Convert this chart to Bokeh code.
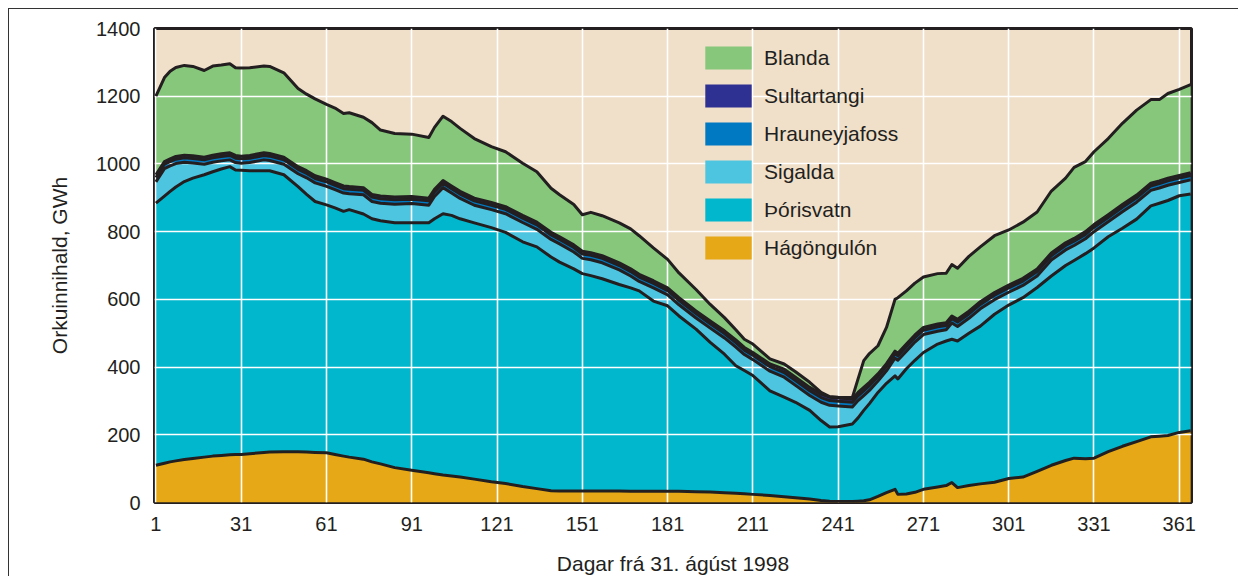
import numpy as np
from bokeh.plotting import figure
from bokeh.models import Range1d, FixedTicker, Legend, LegendItem, ColumnDataSource
from bokeh.embed import file_html
from bokeh.resources import INLINE

# ---- data (GWh) ----
days = [1, 4, 6, 8, 11, 14, 18, 21, 24, 27,
        29, 31, 34, 39, 41, 46, 51, 54, 57, 61,
        64, 67, 69, 74, 77, 80, 85, 91, 97, 99,
        102, 105, 108, 113, 119, 124, 130, 135, 140, 143,
        148, 151, 154, 158, 164, 168, 171, 176, 181, 185,
        191, 196, 201, 205, 208, 211, 217, 222, 226, 231,
        235, 238, 241, 246, 248, 250, 252, 255, 258, 261,
        262, 265, 268, 271, 276, 279, 281, 283, 287, 291,
        296, 301, 306, 311, 316, 321, 324, 328, 331, 336,
        341, 346, 351, 354, 357, 361, 365]

hagongulon = [110, 116, 120, 123, 127, 130, 134, 137, 139, 141,
              142, 142, 144, 148, 149, 150, 150, 149, 148, 147,
              142, 137, 134, 128, 120, 114, 103, 95, 88, 85,
              81, 78, 75, 69, 61, 56, 47, 41, 35, 34,
              34, 34, 34, 34, 34, 33, 33, 33, 33, 33,
              32, 31, 29, 27, 26, 24, 21, 17, 14, 10,
              6, 4, 3, 3, 4, 5, 8, 18, 29, 39,
              24, 25, 30, 39, 46, 50, 59, 44, 50, 55,
              60, 71, 75, 92, 110, 124, 131, 129, 131, 150,
              166, 180, 194, 196, 198, 207, 212]

thorisvatn = [774, 789, 799, 809, 821, 828, 834, 840, 846, 851,
              840, 839, 836, 832, 831, 818, 783, 761, 741, 732,
              728, 723, 731, 724, 718, 718, 723, 731, 738, 753,
              772, 770, 763, 757, 751, 742, 723, 714, 690, 676,
              656, 642, 636, 627, 610, 601, 592, 562, 548, 518,
              480, 442, 409, 377, 364, 351, 309, 294, 282, 262,
              236, 219, 221, 229, 246, 267, 284, 307, 323, 335,
              341, 370, 390, 404, 422, 427, 423, 433, 450, 466,
              496, 512, 530, 543, 559, 576, 584, 606, 621, 635,
              644, 657, 682, 688, 694, 699, 699]

sigalda = [63, 81, 75, 69, 57, 45, 31, 28, 24, 20,
           22, 21, 24, 32, 30, 31, 38, 49, 55, 55,
           54, 54, 47, 57, 51, 52, 55, 57, 52, 66,
           77, 66, 60, 52, 53, 55, 57, 52, 52, 54,
           50, 45, 47, 47, 43, 35, 28, 39, 32, 33,
           33, 42, 48, 55, 47, 47, 58, 59, 50, 44,
           54, 64, 61, 50, 51, 44, 39, 34, 37, 52,
           55, 52, 54, 53, 38, 33, 48, 43, 44, 51,
           43, 38, 36, 34, 47, 46, 44, 44, 48, 44,
           49, 50, 46, 45, 45, 39, 42]

hrauneyjafoss = [13] * 57 + [14] * 10 + [13] * 30
sultartangi = [8] * 57 + [10] * 10 + [8] * 30

blanda = [232, 248, 259, 263, 265, 264, 256, 263, 262, 263,
          259, 260, 259, 256, 257, 249, 231, 226, 227, 221,
          220, 214, 218, 208, 212, 195, 188, 184, 179, 183,
          190, 190, 186, 176, 165, 162, 154, 149, 130, 124,
          119, 108, 119, 118, 118, 118, 114, 97, 84, 73,
          63, 49, 39, 30, 24, 25, 15, 15, 16, 15,
          5, 2, 2, 4, 40, 79, 85, 83, 107, 153,
          164, 157, 153, 149, 149, 146, 152, 151, 162, 162,
          168, 163, 166, 168, 183, 191, 210, 207, 215, 225,
          240, 251, 247, 240, 250, 254, 260]

series_names = ["Hágöngulón", "Þórisvatn", "Sigalda", "Hrauneyjafoss", "Sultartangi", "Blanda"]
x_ticks = [1, 31, 61, 91, 121, 151, 181, 211, 241, 271, 301, 331, 361]
y_ticks = [0, 200, 400, 600, 800, 1000, 1200, 1400]

colors = ["#E6A817", "#00B7CD", "#4EC5E0", "#0079C2", "#2E3092", "#86C77B"]
ink = "#231F20"
font = "Liberation Sans"

keys = ["hag", "thor", "sig", "hrau", "sult", "bla"]
src = ColumnDataSource(dict(x=days, hag=hagongulon, thor=thorisvatn, sig=sigalda,
                            hrau=hrauneyjafoss, sult=sultartangi, bla=blanda))

p = figure(width=1230, height=568, output_backend="svg", toolbar_location=None,
           x_range=Range1d(0.5, 365.3), y_range=Range1d(0, 1400),
           min_border_left=145, min_border_right=48, min_border_top=19, min_border_bottom=73)

areas = p.varea_stack(stackers=keys, x="x", color=colors, source=src, level="image")
p.vline_stack(stackers=keys, x="x", source=src, line_color=ink, line_width=3,
              line_join="round")

p.background_fill_color = "#F0DFC9"
p.border_fill_color = "white"
p.outline_line_color = ink
p.outline_line_width = 3

p.xaxis.ticker = FixedTicker(ticks=x_ticks)
p.yaxis.ticker = FixedTicker(ticks=y_ticks)
p.grid.grid_line_color = "white"
p.grid.grid_line_width = 1.6
p.grid.level = "underlay"

for ax in (p.xaxis[0], p.yaxis[0]):
    ax.axis_line_color = None
    ax.major_tick_line_color = None
    ax.minor_tick_line_color = None
    ax.major_label_text_font = font
    ax.major_label_text_font_size = "20px"
    ax.major_label_text_color = ink
    ax.axis_label_text_font = font
    ax.axis_label_text_font_size = "21px"
    ax.axis_label_text_font_style = "normal"
    ax.axis_label_text_color = ink
    ax.major_label_standoff = 8

p.xaxis.axis_label = "Dagar frá 31. ágúst 1998"
p.yaxis.axis_label = "Orkuinnihald, GWh"
p.xaxis.axis_label_standoff = 18
p.yaxis.axis_label_standoff = 22

items = [LegendItem(label=series_names[i], renderers=[areas[i]]) for i in range(5, -1, -1)]
legend = Legend(items=items, location=(545, 240), glyph_width=58, glyph_height=29,
                label_standoff=7, spacing=9, padding=0, margin=0,
                label_text_font=font, label_text_font_size="21px", label_text_color=ink,
                border_line_alpha=0, background_fill_alpha=0)
p.add_layout(legend)

p.styles = {"margin-left": "8px", "margin-top": "8px",
            "border-top": "1px solid #333333", "border-left": "1px solid #333333"}

open("out.html", "w").write(file_html(p, INLINE))
